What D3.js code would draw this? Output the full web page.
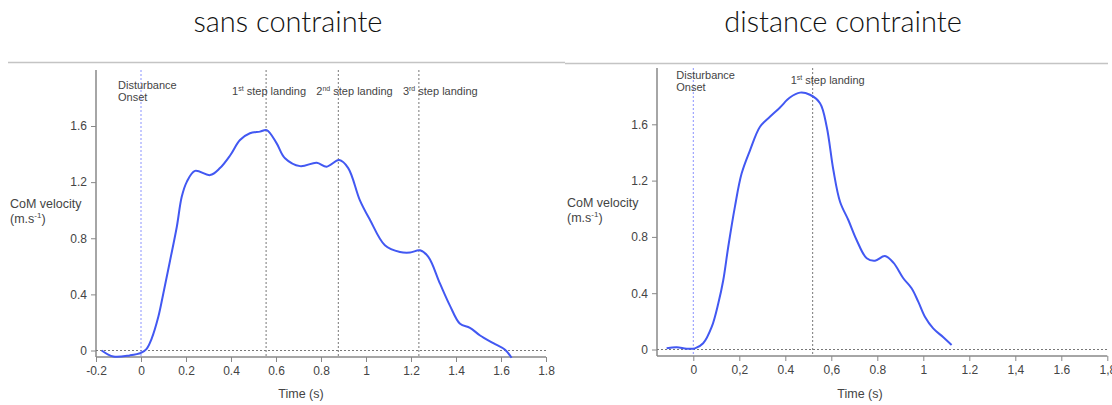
<!DOCTYPE html>
<html>
<head>
<meta charset="utf-8">
<script src="https://cdn.jsdelivr.net/npm/d3@7"></script>
<style>
  body { margin: 0; background: #fff; }
  text { font-family: 'Liberation Sans', Arial, sans-serif; fill: #444; }
  .title { font-family: Lato, 'Open Sans', sans-serif; fill: #111; font-size: 29px; font-weight: 300; }
</style>
</head>
<body>
<div id="chart"></div>
<script>
// sans contrainte: time (s) and CoM velocity (m/s)
const freeTime = [-0.175, -0.123, -0.05, 0, 0.025, 0.047, 0.077, 0.099, 0.129, 0.159, 0.181, 0.203, 0.24, 0.307, 0.351, 0.396, 0.44, 0.484, 0.529, 0.559, 0.603, 0.64, 0.707, 0.781, 0.825, 0.881, 0.921, 0.973, 1.018, 1.084, 1.151, 1.196, 1.24, 1.277, 1.329, 1.373, 1.418, 1.462, 1.507, 1.566, 1.618, 1.647]
const freeSpeed = [0, -0.043, -0.035, -0.017, 0.012, 0.083, 0.24, 0.405, 0.64, 0.88, 1.095, 1.2, 1.28, 1.25, 1.3, 1.39, 1.5, 1.548, 1.56, 1.571, 1.476, 1.37, 1.314, 1.338, 1.31, 1.357, 1.3, 1.07, 0.93, 0.75, 0.702, 0.698, 0.714, 0.667, 0.476, 0.32, 0.19, 0.162, 0.107, 0.052, 0.005, -0.052]
const freeSteps = [0.556, 0.877, 1.235]

// distance contrainte
const distTime = [-0.116, -0.072, -0.029, 0.007, 0.043, 0.08, 0.109, 0.13, 0.152, 0.181, 0.21, 0.247, 0.29, 0.333, 0.377, 0.42, 0.464, 0.507, 0.551, 0.58, 0.609, 0.638, 0.674, 0.71, 0.754, 0.79, 0.833, 0.87, 0.913, 0.949, 0.978, 1.007, 1.043, 1.087, 1.123]
const distSpeed = [0.009, 0.016, 0.006, 0.008, 0.044, 0.16, 0.33, 0.49, 0.73, 1.015, 1.25, 1.417, 1.583, 1.654, 1.72, 1.79, 1.825, 1.81, 1.75, 1.583, 1.275, 1.05, 0.92, 0.778, 0.648, 0.631, 0.664, 0.617, 0.506, 0.435, 0.34, 0.233, 0.15, 0.087, 0.032]
const distSteps = [0.519]

const stepNames = [['1', 'st'], ['2', 'nd'], ['3', 'rd']]
const yTicks = [0, 0.4, 0.8, 1.2, 1.6]
const xTicks = [0, 0.2, 0.4, 0.6, 0.8, 1, 1.2, 1.4, 1.6, 1.8]
const freeXLabels = ['0', '0.2', '0.4', '0.6', '0.8', '1', '1.2', '1.4', '1.6', '1.8']
const distXLabels = ['0', '0,2', '0.4', '0,6', '0.8', '1', '1.2', '1,4', '1.6', '1,8']

const svg = d3.select('#chart').append('svg')
  .attr('width', 1112)
  .attr('height', 405)

// titles and separator
svg.append('text').attr('class', 'title').attr('x', 288).attr('y', 32)
  .attr('text-anchor', 'middle').text('sans contrainte')
svg.append('text').attr('class', 'title').attr('x', 843).attr('y', 32)
  .attr('text-anchor', 'middle').text('distance contrainte')
svg.append('line').attr('x1', 8).attr('x2', 565).attr('y1', 62.5).attr('y2', 62.5)
  .attr('stroke', '#c4c4c4').attr('stroke-width', 1.5)
svg.append('line').attr('x1', 565).attr('x2', 1108).attr('y1', 63.5).attr('y2', 63.5)
  .attr('stroke', '#c4c4c4').attr('stroke-width', 1.5)

function drawPanel (p) {
  const g = svg.append('g')
  const x = p.x
  const y = p.y

  // x axis
  const xAxis = d3.axisBottom(x)
    .tickValues(p.xTicks)
    .tickFormat((d, i) => p.xLabels[i])
    .tickSize(5)
    .tickPadding(4)
  const gx = g.append('g')
    .attr('transform', 'translate(0,' + p.axisY + ')')
    .call(xAxis)
  gx.select('.domain').remove()
  gx.append('line')
    .attr('x1', p.axisX).attr('x2', x(1.8))
    .attr('stroke', '#888').attr('stroke-width', 1.5)
  gx.selectAll('.tick line').attr('stroke', '#888')
  gx.selectAll('.tick text').style('font-size', '12px').attr('fill', '#555')

  // y axis
  const yAxis = d3.axisLeft(y)
    .tickValues(yTicks)
    .tickFormat(d => d === 0 ? '0' : d3.format('.1f')(d))
    .tickSize(5)
    .tickPadding(4)
  const gy = g.append('g')
    .attr('transform', 'translate(' + p.axisX + ',0)')
    .call(yAxis)
  gy.select('.domain').remove()
  gy.append('line')
    .attr('y1', p.axisTop).attr('y2', p.axisY)
    .attr('stroke', '#888').attr('stroke-width', 1.5)
  gy.selectAll('.tick line').attr('stroke', '#888')
  gy.selectAll('.tick text').style('font-size', '12px').attr('fill', '#555')

  // zero line
  g.append('line')
    .attr('x1', p.axisX).attr('x2', p.zeroEnd)
    .attr('y1', y(0)).attr('y2', y(0))
    .attr('stroke', '#777').attr('stroke-dasharray', '2,2')

  // onset line
  g.append('line')
    .attr('x1', x(0)).attr('x2', x(0))
    .attr('y1', p.axisTop).attr('y2', p.axisY)
    .attr('stroke', '#8a93ff').attr('stroke-dasharray', '2,2')

  g.append('text').attr('x', x(0) + p.onsetDx).attr('y', p.onsetY)
    .style('font-size', '11px').text('Disturbance')
  g.append('text').attr('x', x(0) + p.onsetDx).attr('y', p.onsetY + 12)
    .style('font-size', '11px').text('Onset')

  // step landing lines
  p.steps.forEach((s, i) => {
    g.append('line')
      .attr('x1', x(s)).attr('x2', x(s))
      .attr('y1', p.axisTop).attr('y2', p.axisY)
      .attr('stroke', '#777').attr('stroke-dasharray', '2,2')
    const t = g.append('text')
      .attr('x', x(s) + p.stepDx[i])
      .attr('y', p.stepY)
      .style('font-size', '11px')
    t.append('tspan').text(stepNames[i][0])
    t.append('tspan').attr('dy', -4).style('font-size', '7px').text(stepNames[i][1])
    t.append('tspan').attr('dy', 4).text(' step landing')
  })

  // axis titles
  g.append('text').attr('x', p.labelX).attr('y', p.labelY)
    .style('font-size', '12.5px').attr('fill', '#333').text('CoM velocity')
  const u = g.append('text').attr('x', p.labelX).attr('y', p.labelY + 15)
    .style('font-size', '12.5px').attr('fill', '#333')
  u.append('tspan').text('(m.s')
  u.append('tspan').attr('dy', -5).style('font-size', '8px').text('-1')
  u.append('tspan').attr('dy', 5).text(')')

  g.append('text').attr('x', p.timeX).attr('y', 398)
    .attr('text-anchor', 'middle')
    .style('font-size', '12.5px').attr('fill', '#333').text('Time (s)')

  // curve
  const pts = p.time.map((t, i) => [t, p.speed[i]])
  const line = d3.line()
    .x(d => x(d[0]))
    .y(d => y(d[1]))
    .curve(d3.curveCatmullRom.alpha(0.5))
  g.append('path')
    .datum(pts)
    .attr('d', line)
    .attr('fill', 'none')
    .attr('stroke', '#4258f2')
    .attr('stroke-width', 2)
}

drawPanel({
  x: d3.scaleLinear().domain([-0.2, 1.8]).range([96, 546]),
  y: d3.scaleLinear().domain([0, 1.6]).range([350.5, 126]),
  xTicks: [-0.2].concat(xTicks),
  xLabels: ['-0.2'].concat(freeXLabels),
  axisX: 96,
  axisY: 357,
  axisTop: 70,
  zeroEnd: 548,
  onsetDx: -23,
  onsetY: 89,
  stepDx: [-34, -22, -16],
  stepY: 95,
  steps: freeSteps,
  labelX: 10,
  labelY: 208,
  timeX: 301,
  time: freeTime,
  speed: freeSpeed
})

drawPanel({
  x: d3.scaleLinear().domain([0, 1.8]).range([693.3, 1107.3]),
  y: d3.scaleLinear().domain([0, 1.6]).range([349.5, 124.3]),
  xTicks: xTicks,
  xLabels: distXLabels,
  axisX: 657,
  axisY: 356,
  axisTop: 68,
  zeroEnd: 1108,
  onsetDx: -17,
  onsetY: 79,
  stepDx: [-22],
  stepY: 84,
  steps: distSteps,
  labelX: 567,
  labelY: 207,
  timeX: 860,
  time: distTime,
  speed: distSpeed
})
</script>
</body>
</html>
